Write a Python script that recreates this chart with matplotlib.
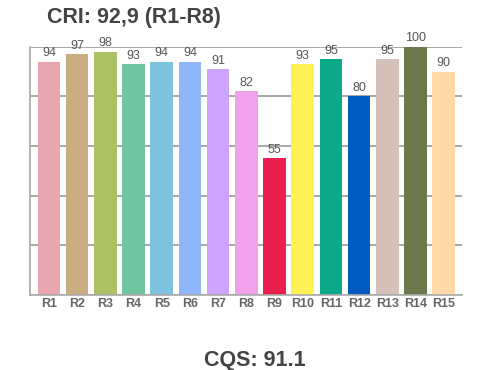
import matplotlib
matplotlib.use("Agg")
import matplotlib.pyplot as plt

# Colour rendering samples R1..R15
labels = ["R1", "R2", "R3", "R4", "R5", "R6", "R7", "R8",
          "R9", "R10", "R11", "R12", "R13", "R14", "R15"]
values = [94, 97, 98, 93, 94, 94, 91, 82, 55, 93, 95, 80, 95, 100, 90]
colors = ["#E8A6AF", "#CBAB80", "#ACC163", "#70C6A0", "#7DC2DE",
          "#8FB6FA", "#CDA4FB", "#EFA2EA", "#EB1F4D", "#FEF154",
          "#0CAA87", "#015BBF", "#D5C0BA", "#6A784C", "#FFD9A6"]
title = "CRI: 92,9 (R1-R8)"
footer = "CQS: 91.1"

plt.rcParams["font.family"] = ["Liberation Sans", "DejaVu Sans"]

fig = plt.figure(figsize=(5.0, 3.7), dpi=100)
ax = fig.add_axes([0.06, 0.2027, 0.864, 0.671])

x = list(range(len(values)))
ax.bar(x, values, width=0.8, color=colors, zorder=2)
for xi, v in zip(x, values):
    ax.text(xi, v + 0.9, str(v), ha="center", va="bottom",
            fontsize=9, color="#555555")

ax.set_xlim(-0.67, 14.65)
ax.set_ylim(0, 100)
ax.set_yticks([0, 20, 40, 60, 80, 100])
ax.set_yticklabels([])
ax.tick_params(axis="y", length=0)
ax.set_xticks(x)
ax.set_xticklabels(labels, fontsize=9, fontweight="bold", color="#666666")
ax.tick_params(axis="x", length=0, pad=2)
ax.grid(axis="y", color="#999999", linewidth=1.2, zorder=0)
ax.set_axisbelow(True)

for side in ["top", "right"]:
    ax.spines[side].set_visible(False)
for side in ["left", "bottom"]:
    ax.spines[side].set_color("#aaaaaa")
    ax.spines[side].set_linewidth(1.2)

fig.text(47 / 500, 1 - 22.7 / 370, title, ha="left", va="baseline",
         fontsize=15.5, fontweight="bold", color="#444444")
fig.text(255 / 500, 1 - 366 / 370, footer, ha="center", va="baseline",
         fontsize=15.5, fontweight="bold", color="#444444")

fig.savefig("out.png", dpi=100)
